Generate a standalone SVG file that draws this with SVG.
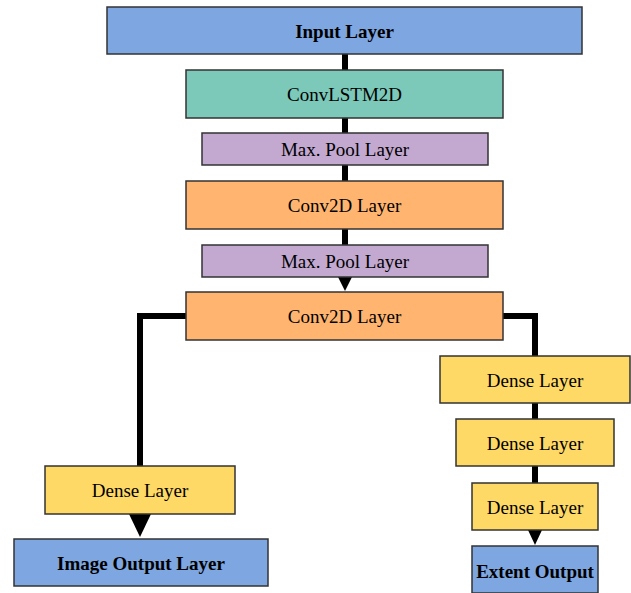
<svg xmlns="http://www.w3.org/2000/svg" width="631" height="593" viewBox="0 0 631 593">
<style>
  .box{stroke:#333;stroke-width:1.5}
  .blue{fill:#7EA6E0}
  .teal{fill:#7CC8B9}
  .purple{fill:#C3A9D0}
  .orange{fill:#FFB570}
  .yellow{fill:#FFD966}
  text{font-family:"Liberation Serif","Times New Roman",serif;fill:#000;text-anchor:middle;font-size:19px}
  .b{font-weight:bold}
  .line{stroke:#000;stroke-width:6;fill:none}
</style>
<g id="connectors">
  <line class="line" x1="345" y1="54" x2="345" y2="70"/>
  <line class="line" x1="345" y1="118" x2="345" y2="133"/>
  <line class="line" x1="345" y1="165" x2="345" y2="181"/>
  <line class="line" x1="345" y1="229" x2="345" y2="245"/>
  <polygon points="338,277 352,277 345,291" fill="#000"/>
  <polyline class="line" points="186,316 140,316 140,466"/>
  <polyline class="line" points="503,316 535,316 535,357"/>
  <line class="line" x1="535" y1="403" x2="535" y2="419"/>
  <line class="line" x1="535" y1="466" x2="535" y2="483"/>
  <polygon points="528,530 542,530 535,545" fill="#000"/>
  <polygon points="129,514 151,514 140,537" fill="#000"/>
</g>
<g id="input"><rect class="box blue" x="107" y="7" width="475" height="47"/><text class="b" x="344.5" y="38">Input Layer</text></g>
<g id="convlstm"><rect class="box teal" x="186" y="70" width="317" height="48"/><text x="344.5" y="101">ConvLSTM2D</text></g>
<g id="pool1"><rect class="box purple" x="202" y="133" width="286" height="32"/><text x="345" y="156">Max. Pool Layer</text></g>
<g id="conv1"><rect class="box orange" x="186" y="181" width="317" height="48"/><text x="344.5" y="212">Conv2D Layer</text></g>
<g id="pool2"><rect class="box purple" x="202" y="245" width="286" height="32"/><text x="345" y="268">Max. Pool Layer</text></g>
<g id="conv2"><rect class="box orange" x="186" y="292" width="317" height="48"/><text x="344.5" y="323">Conv2D Layer</text></g>
<g id="denseL"><rect class="box yellow" x="45" y="466" width="190" height="48"/><text x="140" y="497">Dense Layer</text></g>
<g id="imageOut"><rect class="box blue" x="14" y="539" width="254" height="47"/><text class="b" x="141" y="570">Image Output Layer</text></g>
<g id="denseR1"><rect class="box yellow" x="440" y="356" width="190" height="47"/><text x="535" y="387">Dense Layer</text></g>
<g id="denseR2"><rect class="box yellow" x="456" y="419" width="158" height="47"/><text x="535" y="450">Dense Layer</text></g>
<g id="denseR3"><rect class="box yellow" x="472" y="483" width="126" height="47"/><text x="535" y="514">Dense Layer</text></g>
<g id="extent"><rect class="box blue" x="472" y="546" width="126" height="47"/><text class="b" x="535" y="578">Extent Output</text></g>
</svg>
